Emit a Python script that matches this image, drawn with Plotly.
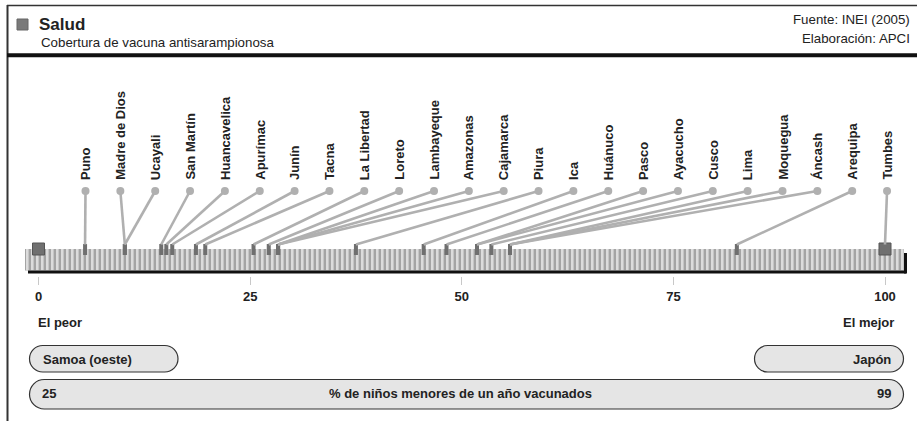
import plotly.graph_objects as go

# ---------------- data ----------------
departamentos = ["Puno", "Madre de Dios", "Ucayali", "San Martín", "Huancavelica",
                 "Apurímac", "Junín", "Tacna", "La Libertad", "Loreto", "Lambayeque",
                 "Amazonas", "Cajamarca", "Piura", "Ica", "Huánuco", "Pasco", "Ayacucho",
                 "Cusco", "Lima", "Moquegua", "Áncash", "Arequipa", "Tumbes"]
indice = [5.5, 10.2, 10.2, 14.5, 15.1, 15.8, 18.6, 19.7, 25.4, 27.2, 28.3,
          28.3, 28.3, 37.5, 45.5, 48.2, 51.8, 51.8, 53.5, 55.7, 55.7, 55.7, 82.5, 100]
extremos_idx = [0, 100]
extremos_pais = ["Samoa (oeste)", "Japón"]
extremos_valor = ["25", "99"]
tick_vals = [0, 25, 50, 75, 100]
titulo = "Salud"
subtitulo = "Cobertura de vacuna antisarampionosa"
fuente = "Fuente: INEI (2005)"
elaboracion = "Elaboración: APCI"
indicador = "% de niños menores de un año vacunados"

# ---------------- geometry helpers (layout only) ----------------
W, H = 917, 421
X0PX, K = 38.5, 8.465          # pixel of index 0, pixels per index unit


def px2x(px):
    return (px - X0PX) / K


def px2p(px):
    return px / W


BOLD = "Liberation Sans, Arial, sans-serif"
REG = "Liberation Sans, Arial, sans-serif"
TXT = "#222222"
BSIZE = 13

fig = go.Figure()

# leader lines from labels to markers
n = len(departamentos)
lbl_x = [px2x(85.5 + i * 34.85) for i in range(n)]
lx, ly = [], []
for i in range(n):
    lx += [lbl_x[i], indice[i], None]
    ly += [191, 244.5, None]
fig.add_trace(go.Scatter(x=lx, y=ly, mode="lines",
                         line=dict(color="#b0b0b0", width=2.6), hoverinfo="skip"))
fig.add_trace(go.Scatter(x=lbl_x, y=[191] * n, mode="markers",
                         marker=dict(color="#b0b0b0", size=8), hoverinfo="skip"))

# markers on the bar
fig.add_trace(go.Bar(x=indice, y=[11] * n, base=244, width=4 / K,
                     marker=dict(color="#6f6f6f", line=dict(width=0)), hoverinfo="skip"))
# extreme squares
fig.add_trace(go.Bar(x=extremos_idx, y=[12, 12], base=243, width=12 / K,
                     marker=dict(color="#707070", line=dict(color="#555555", width=1)),
                     hoverinfo="skip"))

shapes = []
# bar background + stripes
shapes.append(dict(type="rect", xref="paper", yref="y", x0=px2p(25), x1=px2p(904),
                   y0=249, y1=270.5, fillcolor="#a4a4a4", line=dict(width=0), layer="below"))
p = 26.0
while p < 902:
    shapes.append(dict(type="rect", xref="paper", yref="y", x0=px2p(p), x1=px2p(p + 2.6),
                       y0=249, y1=270.5, fillcolor="#dcdcdc", line=dict(width=0),
                       layer="below"))
    p += 5
# bar baseline and end
shapes.append(dict(type="line", xref="paper", yref="y", x0=px2p(28), x1=px2p(906),
                   y0=272, y1=272, line=dict(color="#111111", width=3)))
shapes.append(dict(type="line", xref="paper", yref="y", x0=px2p(905.5), x1=px2p(905.5),
                   y0=253, y1=273.5, line=dict(color="#111111", width=3)))
# frame
shapes.append(dict(type="line", xref="paper", yref="y", x0=px2p(7), x1=1,
                   y0=5.5, y1=5.5, line=dict(color="#333333", width=1.5)))
shapes.append(dict(type="line", xref="paper", yref="y", x0=px2p(7.5), x1=px2p(7.5),
                   y0=5, y1=H, line=dict(color="#333333", width=2)))
shapes.append(dict(type="line", xref="paper", yref="y", x0=px2p(7), x1=1,
                   y0=55.3, y1=55.3, line=dict(color="#111111", width=4)))
# header square
shapes.append(dict(type="rect", xref="paper", yref="y", x0=px2p(17), x1=px2p(28),
                   y0=19, y1=30, fillcolor="#7a7a7a", line=dict(color="#666666", width=1)))


def pill(x0, x1, y0, y1):
    r = (y1 - y0) / 2
    c = 0.5523 * r
    ym = (y0 + y1) / 2
    pts = [
        f"M{px2p(x0 + r)},{y0}",
        f"L{px2p(x1 - r)},{y0}",
        f"C{px2p(x1 - r + c)},{y0} {px2p(x1)},{ym - c} {px2p(x1)},{ym}",
        f"C{px2p(x1)},{ym + c} {px2p(x1 - r + c)},{y1} {px2p(x1 - r)},{y1}",
        f"L{px2p(x0 + r)},{y1}",
        f"C{px2p(x0 + r - c)},{y1} {px2p(x0)},{ym + c} {px2p(x0)},{ym}",
        f"C{px2p(x0)},{ym - c} {px2p(x0 + r - c)},{y0} {px2p(x0 + r)},{y0}",
        "Z",
    ]
    return dict(type="path", xref="paper", yref="y", path=" ".join(pts),
                fillcolor="#e5e5e5", line=dict(color="#333333", width=1.2), layer="below")


shapes.append(pill(29.5, 178, 345.5, 372))
shapes.append(pill(754.5, 903.5, 345.5, 372))
shapes.append(pill(29.5, 903.5, 379.5, 409))

ann = []
# department labels
for i in range(n):
    ann.append(dict(x=lbl_x[i], y=182, xref="x", yref="y", text=departamentos[i],
                    textangle=-90, xanchor="center", yanchor="bottom", showarrow=False,
                    font=dict(family=BOLD, size=BSIZE, color=TXT, weight="bold")))


def txt(xpx, ypx, s, anchor, family=BOLD, size=BSIZE, weight="bold"):
    ann.append(dict(x=px2p(xpx), y=ypx, xref="paper", yref="y", text=s,
                    xanchor=anchor, yanchor="middle", showarrow=False,
                    font=dict(family=family, size=size, color=TXT, weight=weight)))


txt(36, 322, "El peor", "left")
txt(896, 322, "El mejor", "right")
txt(41, 359, extremos_pais[0], "left")
txt(893, 359, extremos_pais[1], "right")
txt(40, 393, extremos_valor[0], "left")
txt(893, 393, extremos_valor[1], "right")
txt(461, 393, indicador, "center")
txt(37, 24.5, titulo, "left", family=REG, size=17, weight="bold")
txt(39, 42, subtitulo, "left", family=REG, size=13.3, weight="normal")
txt(912, 19, fuente, "right", family=REG, size=13.3, weight="normal")
txt(912, 38.5, elaboracion, "right", family=REG, size=13.3, weight="normal")

fig.update_layout(
    width=W, height=H, autosize=False,
    margin=dict(l=0, r=0, t=0, b=0),
    paper_bgcolor="white", plot_bgcolor="white",
    showlegend=False, barmode="overlay",
    shapes=shapes, annotations=ann,
    xaxis=dict(range=[px2x(0), px2x(W)], showgrid=False, zeroline=False, showline=False,
               tickmode="array", tickvals=tick_vals, ticks="outside", ticklen=8,
               tickwidth=1, tickcolor="#c8c8c8", anchor="free", position=1 - 276 / H,
               tickfont=dict(family=BOLD, size=BSIZE, color=TXT, weight="bold"),
               fixedrange=True),
    yaxis=dict(range=[H, 0], visible=False, fixedrange=True),
)

fig.write_html("out.html", config={"displayModeBar": False},
               post_script="document.body.style.margin='0';")
